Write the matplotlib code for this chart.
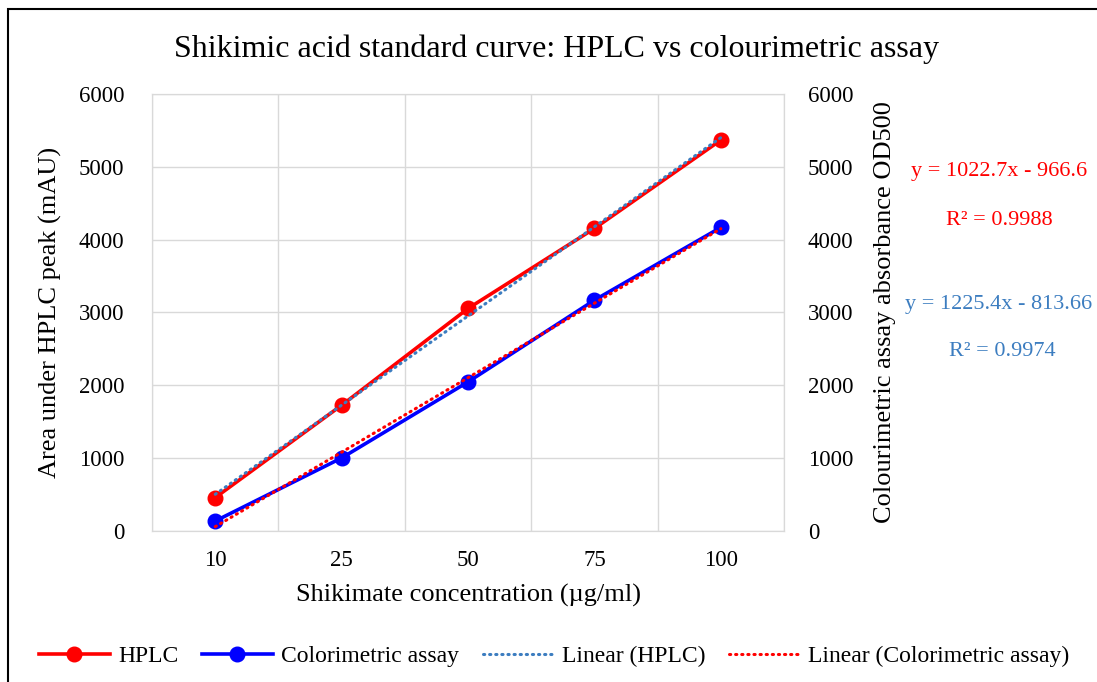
import numpy as np
import matplotlib
matplotlib.use("Agg")
import matplotlib.pyplot as plt
from matplotlib.patches import Rectangle

# data
concentrations = ["10", "25", "50", "75", "100"]
hplc_area = [459, 1727, 3055, 4154, 5367]
colorimetric = [137, 1003, 2047, 3169, 4168]

hplc_eq = "y = 1225.4x - 813.66"
hplc_r2 = "R² = 0.9974"
color_eq = "y = 1022.7x - 966.6"
color_r2 = "R² = 0.9988"

plt.rcParams["font.family"] = ["Liberation Serif", "DejaVu Serif"]

RED = "#FF0000"
BLUE = "#0000FF"
TREND_BLUE = "#3C7DC0"
GRID = "#D9D9D9"

fig = plt.figure(figsize=(10.97, 6.82), dpi=100)
ax = fig.add_axes([0.1386, 0.2214, 0.5761, 0.6408])
ax2 = ax.twinx()

x = np.arange(1, len(concentrations) + 1)

# linear trendlines (least squares over category index, like Excel)
p_h = np.polyfit(x, hplc_area, 1)
p_c = np.polyfit(x, colorimetric, 1)

l1, = ax.plot(x, hplc_area, color=RED, lw=2.6, marker="o", ms=10.5, label="HPLC", zorder=3)
l2, = ax2.plot(x, colorimetric, color=BLUE, lw=2.6, marker="o", ms=10.5, label="Colorimetric assay", zorder=3)
l3, = ax.plot(x, np.polyval(p_h, x), color=TREND_BLUE, lw=2.2, ls=(0, (0.4, 1.6)),
              dash_capstyle="round", label="Linear (HPLC)", zorder=4)
l4, = ax2.plot(x, np.polyval(p_c, x), color=RED, lw=2.2, ls=(0, (0.4, 1.6)),
               dash_capstyle="round", label="Linear (Colorimetric assay)", zorder=4)

for a in (ax, ax2):
    a.set_xlim(0.5, len(concentrations) + 0.5)
    a.set_ylim(0, 6000)
    a.set_yticks(np.arange(0, 6001, 1000))
    a.tick_params(length=0, labelsize=16.5)
    for s in a.spines.values():
        s.set_color(GRID)
ax.tick_params(axis="y", pad=20)
ax2.tick_params(axis="y", pad=17)
ax.tick_params(axis="x", pad=14)

ax.set_xticks(x)
ax.set_xticklabels(concentrations)
ax.set_xticks(np.arange(0.5, len(concentrations) + 1, 1), minor=True)
ax.tick_params(which="minor", length=0)
ax.grid(True, which="minor", axis="x", color=GRID, lw=1)
ax.grid(True, which="major", axis="y", color=GRID, lw=1)
ax.set_axisbelow(True)

ax.set_xlabel("Shikimate concentration (µg/ml)", fontsize=19, labelpad=9)
ax.set_ylabel("Area under HPLC peak (mAU)", fontsize=19, labelpad=12)
ax2.set_ylabel("Colourimetric assay absorbance OD500", fontsize=19, labelpad=15)

fig.text(0.507, 0.928, "Shikimic acid standard curve: HPLC vs colourimetric assay",
         ha="center", va="center", fontsize=23)

fig.text(0.911, 0.748, color_eq, color=RED, ha="center", va="center", fontsize=16)
fig.text(0.911, 0.677, color_r2, color=RED, ha="center", va="center", fontsize=16)
fig.text(0.910, 0.554, hplc_eq, color=TREND_BLUE, ha="center", va="center", fontsize=16)
fig.text(0.914, 0.484, hplc_r2, color=TREND_BLUE, ha="center", va="center", fontsize=16)

fig.legend(handles=[l1, l2, l3, l4], loc="center", bbox_to_anchor=(0.505, 0.038),
           ncol=4, frameon=False, fontsize=17, handlelength=3.0, columnspacing=1.0,
           handletextpad=0.35)

fig.patches.append(Rectangle((8 / 1097, -0.05), 1.2, 1 - 9 / 682 + 0.05,
                             transform=fig.transFigure, fill=False, ec="black", lw=1.5))

fig.savefig("out.png", dpi=100)
